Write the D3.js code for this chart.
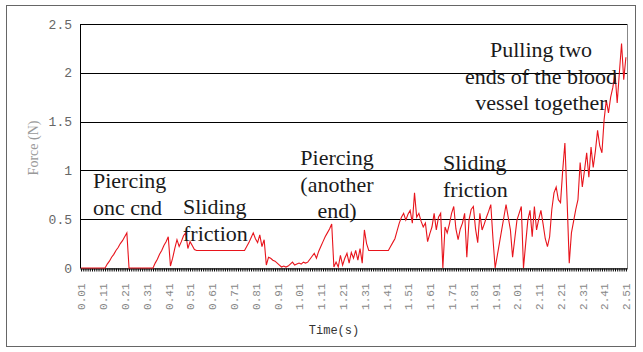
<!DOCTYPE html>
<html lang="en">
<head>
    <meta charset="UTF-8">
    <title>Force vs Time</title>
    <script src="https://d3js.org/d3.v7.min.js"></script>
    <style>
        body { margin: 0; background: #fff; }
        .note { font-family: "Liberation Serif", "Times New Roman", Times, serif; font-size: 22px; fill: #1a1a1a; }
        .mono { font-family: "Liberation Mono", "Courier New", monospace; }
    </style>
</head>
<body>
    <svg width="643" height="352"></svg>
    <script>
        // force readings every 0.01 s, from 0.01 s to 2.51 s
        const force = [
            0, 0, 0, 0, 0, 0, 0, 0, 0, 0,
            0, 0, 0.04, 0.07, 0.11, 0.14, 0.18, 0.21, 0.25, 0.28,
            0.32, 0.36, 0, 0, 0, 0, 0, 0, 0, 0,
            0, 0, 0, 0, 0.05, 0.09, 0.14, 0.18, 0.23, 0.27,
            0.32, 0.02, 0.1, 0.2, 0.29, 0.22, 0.27, 0.33, 0.36, 0.2,
            0.27, 0.23, 0.19, 0.18, 0.18, 0.18, 0.18, 0.18, 0.18, 0.18,
            0.18, 0.18, 0.18, 0.18, 0.18, 0.18, 0.18, 0.18, 0.18, 0.18,
            0.18, 0.18, 0.18, 0.18, 0.18, 0.18, 0.22, 0.26, 0.31, 0.36,
            0.3, 0.26, 0.34, 0.22, 0.29, 0.03, 0.11, 0.1, 0.08, 0.07,
            0.05, 0.03, 0.01, 0.02, 0.01, 0.02, 0.04, 0.06, 0.03, 0.04,
            0.05, 0.04, 0.06, 0.05, 0.06, 0.09, 0.12, 0.15, 0.1, 0.17,
            0.22, 0.27, 0.32, 0.36, 0.4, 0.45, 0.01, 0.06, 0.01, 0.13,
            0.03, 0.1, 0.15, 0.05, 0.16, 0.1, 0.18, 0.08, 0.2, 0.05,
            0.39, 0.25, 0.18, 0.18, 0.18, 0.18, 0.18, 0.18, 0.18, 0.18,
            0.18, 0.18, 0.22, 0.26, 0.3, 0.38, 0.46, 0.52, 0.56, 0.49,
            0.55, 0.59, 0.46, 0.77, 0.52, 0.56, 0.48, 0.42, 0.46, 0.27,
            0.35, 0.42, 0.56, 0.39, 0.52, 0.56, 0, 0.42, 0.36, 0.45,
            0.56, 0.63, 0.4, 0.29, 0.4, 0.46, 0.56, 0.11, 0.49, 0.6,
            0.63, 0.4, 0.26, 0.56, 0.39, 0.45, 0.52, 0.58, 0.65, 0.3,
            0, 0.13, 0.26, 0.39, 0.52, 0.65, 0.52, 0.39, 0.11, 0.3,
            0.49, 0.56, 0.63, 0, 0.25, 0.49, 0.59, 0.32, 0.63, 0.39,
            0.5, 0.59, 0.45, 0.3, 0.22, 0.32, 0.6, 0.77, 0.83, 0.7,
            0.67, 1.0, 1.28, 0.7, 0.05, 0.36, 0.48, 0.6, 0.7, 1.08,
            0.83, 1.0, 1.18, 0.93, 1.24, 1.03, 1.2, 1.41, 1.25, 1.18,
            1.52, 1.72, 1.59, 1.75, 1.85, 2.0, 1.69, 2.0, 2.3, 1.93,
            2.16
        ];
        const times = force.map((d, i) => ((i + 1) / 100).toFixed(2));

        const xTickLabels = ["0.01", "0.11", "0.21", "0.31", "0.41", "0.51", "0.61", "0.71", "0.81",
            "0.91", "1.01", "1.11", "1.21", "1.31", "1.41", "1.51", "1.61", "1.71", "1.81", "1.91",
            "2.01", "2.11", "2.21", "2.31", "2.41", "2.51"];
        const yTicks = [0, 0.5, 1, 1.5, 2, 2.5];
        const yTickLabels = ["0", "0.5", "1", "1.5", "2", "2.5"];

        const notes = [
            { lines: ["Piercing", "onc cnd"], x: 93, y: 188, anchor: "start" },
            { lines: ["Sliding", "friction"], x: 183, y: 214, anchor: "start" },
            { lines: ["Piercing", "(another", "end)"], x: 337, y: 165, anchor: "middle" },
            { lines: ["Sliding", "friction"], x: 443, y: 170, anchor: "start" },
            { lines: ["Pulling two", "ends of the blood", "vessel together"], x: 541, y: 57, anchor: "middle" }
        ];

        const svg = d3.select("svg");
        const plotL = 80, plotR = 627, plotT = 24, plotB = 268;

        // outer frame
        svg.append("rect")
            .attr("x", 6.5).attr("y", 5.5)
            .attr("width", 629).attr("height", 341)
            .attr("fill", "none").attr("stroke", "#666");

        const x = d3.scalePoint().domain(times).range([plotL, plotR]).padding(0.5);
        const y = d3.scaleLinear().domain([0, 2.5]).range([plotB, plotT]);

        // plot border
        svg.append("rect")
            .attr("x", plotL + 0.5).attr("y", plotT + 0.5)
            .attr("width", plotR - plotL).attr("height", plotB - plotT)
            .attr("fill", "none").attr("stroke", "#888");

        // grid lines
        svg.selectAll(".grid")
            .data(yTicks.slice(1))
            .enter().append("line")
            .attr("x1", plotL).attr("x2", plotR)
            .attr("y1", d => Math.round(y(d)) + 0.5)
            .attr("y2", d => Math.round(y(d)) + 0.5)
            .attr("stroke", "#000");

        svg.append("line")
            .attr("x1", plotL + 0.5).attr("x2", plotL + 0.5)
            .attr("y1", plotT).attr("y2", plotB)
            .attr("stroke", "#000");

        // y axis
        const yAxis = svg.append("g")
            .attr("transform", `translate(${plotL},0)`)
            .call(d3.axisLeft(y).tickValues(yTicks).tickSize(0).tickPadding(8)
                .tickFormat((d, i) => yTickLabels[i]));
        yAxis.select(".domain").remove();
        yAxis.selectAll("text")
            .attr("class", "mono")
            .attr("font-size", 13)
            .attr("fill", "#666");

        // x axis, a tick for every sample
        const xAxis = svg.append("g")
            .attr("transform", `translate(0,${plotB + 0.5})`)
            .call(d3.axisBottom(x).tickValues(times).tickSize(3).tickSizeOuter(0)
                .tickFormat(d => xTickLabels.includes(d) ? d : ""));
        xAxis.select(".domain").attr("stroke", "#000");
        xAxis.selectAll(".tick line").attr("stroke", "#000");
        xAxis.selectAll("text")
            .attr("class", "mono")
            .attr("transform", "rotate(-90)")
            .attr("x", -15).attr("y", 0).attr("dy", "0.35em")
            .attr("text-anchor", "end")
            .attr("font-size", 11)
            .attr("fill", "#888");

        // series
        const line = d3.line()
            .x((d, i) => x(times[i]))
            .y(d => y(d));
        svg.append("path")
            .datum(force)
            .attr("d", line)
            .attr("fill", "none")
            .attr("stroke", "#e8141c")
            .attr("stroke-width", 1.1);

        // axis titles
        svg.append("text")
            .attr("class", "mono")
            .attr("x", 334).attr("y", 334)
            .attr("text-anchor", "middle")
            .attr("font-size", 12)
            .attr("fill", "#333")
            .text("Time(s)");

        svg.append("text")
            .attr("transform", "translate(38,148) rotate(-90)")
            .attr("text-anchor", "middle")
            .style("font-family", "'Liberation Serif', serif")
            .attr("font-size", 14)
            .attr("fill", "#999")
            .text("Force (N)");

        // annotations
        notes.forEach(n => {
            n.lines.forEach((s, i) => {
                svg.append("text")
                    .attr("class", "note")
                    .attr("text-anchor", n.anchor)
                    .attr("x", n.x)
                    .attr("y", n.y + i * 26.5)
                    .text(s);
            });
        });
    </script>
</body>
</html>
